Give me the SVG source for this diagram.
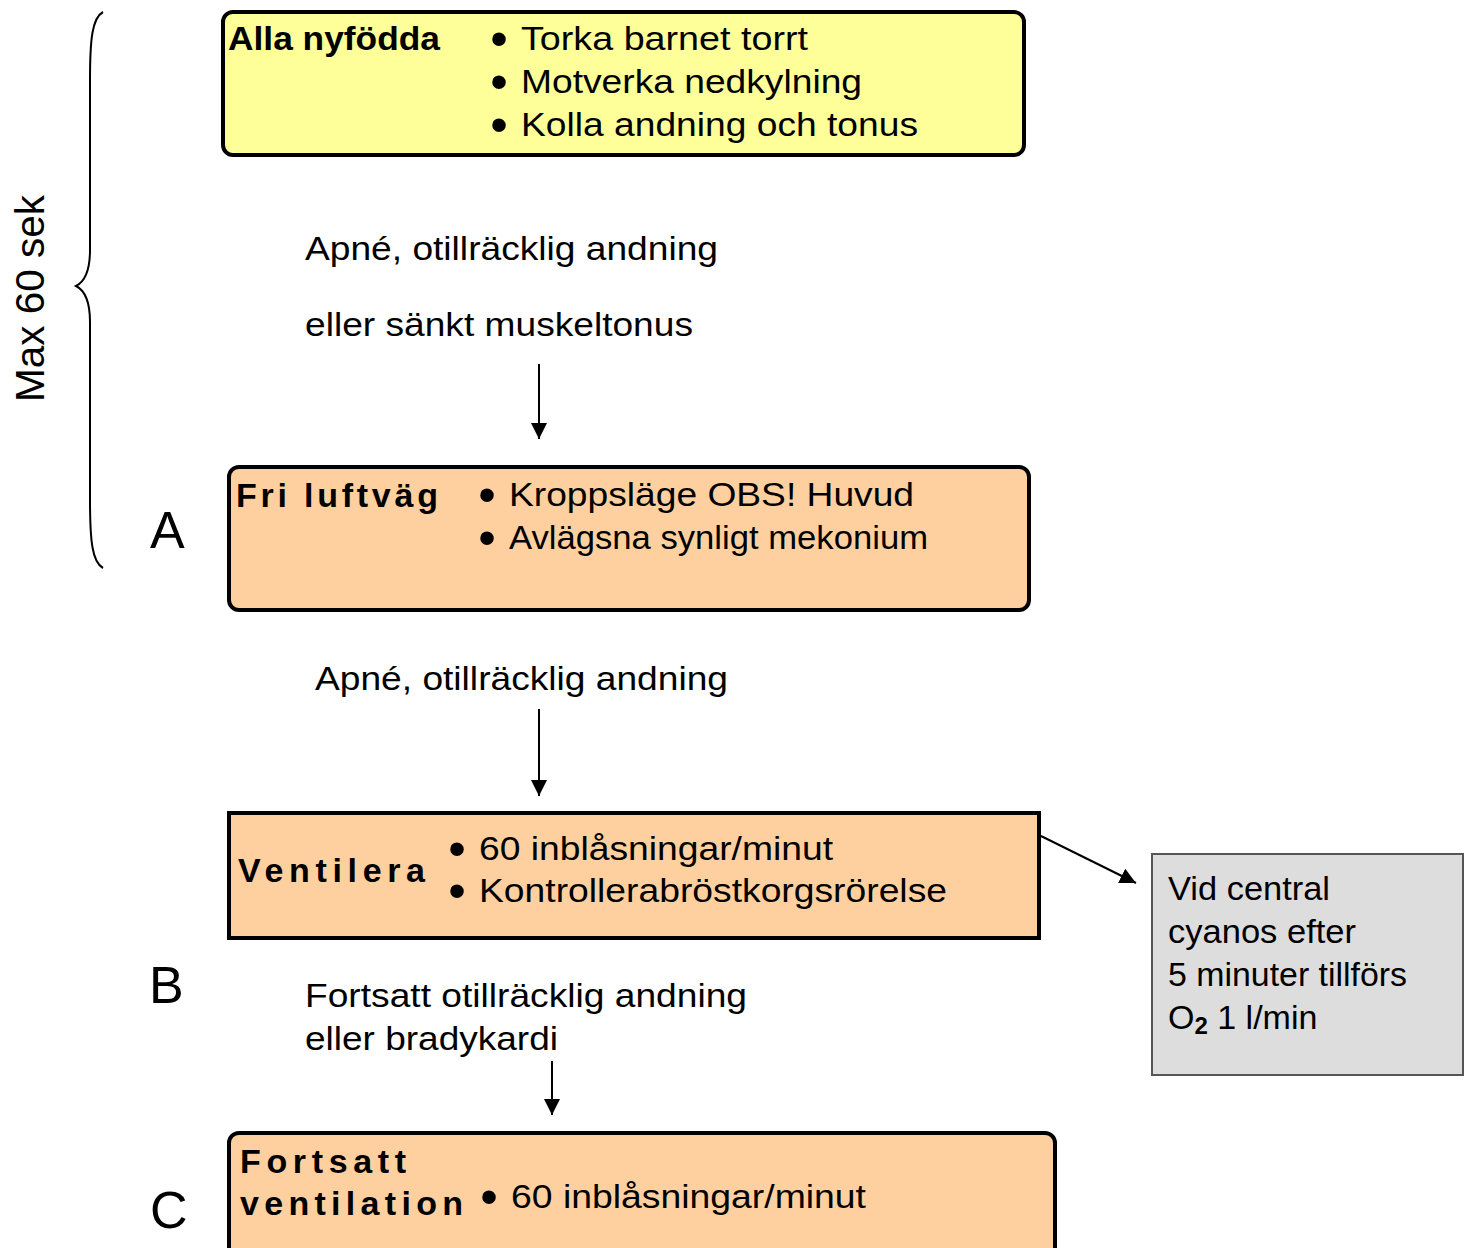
<svg xmlns="http://www.w3.org/2000/svg" width="1472" height="1248" viewBox="0 0 1472 1248">
<style>
text{font-family:"Liberation Sans",Arial,sans-serif;fill:#000;}
.t{font-size:34px;}
.b{font-size:34px;font-weight:bold;}
.bl{font-size:50px;text-anchor:middle;}
.big{font-size:52px;}
.box{stroke:#000;stroke-width:4;}
.conn{stroke:#000;stroke-width:2;fill:none;}
</style>
<defs>
<marker id="ah" viewBox="0 0 10 10" refX="10" refY="5" markerWidth="16" markerHeight="16" markerUnits="userSpaceOnUse" orient="auto">
<path d="M0,0 L10,5 L0,10 Z" fill="#000"/>
</marker>
</defs>
<rect width="1472" height="1248" fill="#fff"/>

<g id="brace">
<path class="conn" d="M103,12 C92,18 90,40 90,80 L90,250 C90,272 84,282 76,286 C84,290 90,300 90,322 L90,500 C90,540 92,562 103,568"/>
<text transform="translate(44,402) rotate(-90)" textLength="207" lengthAdjust="spacingAndGlyphs" style="font-size:40px">Max 60 sek</text>
</g>

<g id="n1">
<rect class="box" x="223" y="12" width="801" height="143" rx="10" fill="#FFFF99"/>
<text class="b" x="228" y="50" textLength="212" lengthAdjust="spacingAndGlyphs">Alla nyfödda</text>
<text class="bl" x="499" y="56">•</text>
<text class="t" x="521" y="50" textLength="287" lengthAdjust="spacingAndGlyphs">Torka barnet torrt</text>
<text class="bl" x="499" y="99">•</text>
<text class="t" x="521" y="93" textLength="341" lengthAdjust="spacingAndGlyphs">Motverka nedkylning</text>
<text class="bl" x="499" y="142">•</text>
<text class="t" x="521" y="136" textLength="397" lengthAdjust="spacingAndGlyphs">Kolla andning och tonus</text>
</g>

<g id="n2">
<rect class="box" x="229" y="467" width="800" height="143" rx="10" fill="#FFD09F"/>
<text class="b" x="236" y="507" textLength="202" lengthAdjust="spacing">Fri luftväg</text>
<text class="bl" x="487" y="512">•</text>
<text class="t" x="509" y="506" textLength="405" lengthAdjust="spacingAndGlyphs">Kroppsläge OBS! Huvud</text>
<text class="bl" x="487" y="555">•</text>
<text class="t" x="509" y="549" textLength="419" lengthAdjust="spacingAndGlyphs">Avlägsna synligt mekonium</text>
</g>
<text id="labelA" class="big" x="150" y="548">A</text>

<g id="n3">
<rect class="box" x="229" y="813" width="810" height="125" fill="#FFD09F"/>
<text class="b" x="238" y="882" textLength="187" lengthAdjust="spacing">Ventilera</text>
<text class="bl" x="457" y="866">•</text>
<text class="t" x="479" y="860" textLength="354" lengthAdjust="spacingAndGlyphs">60 inblåsningar/minut</text>
<text class="bl" x="457" y="908">•</text>
<text class="t" x="479" y="902" textLength="468" lengthAdjust="spacingAndGlyphs">Kontrollerabröstkorgsrörelse</text>
</g>
<text id="labelB" class="big" x="149" y="1003">B</text>

<g id="n4">
<rect class="box" x="229" y="1133" width="826" height="140" rx="10" fill="#FFD09F"/>
<text class="b" x="240" y="1173" textLength="166" lengthAdjust="spacing">Fortsatt</text>
<text class="b" x="240" y="1215" textLength="223" lengthAdjust="spacing">ventilation</text>
<text class="bl" x="489" y="1214">•</text>
<text class="t" x="511" y="1208" textLength="355" lengthAdjust="spacingAndGlyphs">60 inblåsningar/minut</text>
</g>
<text id="labelC" class="big" x="150" y="1228">C</text>

<g id="n5">
<rect x="1152" y="854" width="311" height="221" fill="#DDDDDD" stroke="#555" stroke-width="2"/>
<text class="t" x="1168" y="900" textLength="162" lengthAdjust="spacingAndGlyphs">Vid central</text>
<text class="t" x="1168" y="943" textLength="188" lengthAdjust="spacingAndGlyphs">cyanos efter</text>
<text class="t" x="1168" y="986" textLength="239" lengthAdjust="spacingAndGlyphs">5 minuter tillförs</text>
<text class="t" x="1168" y="1029">O<tspan font-size="24" font-weight="bold" dy="5">2</tspan><tspan dy="-5"> 1 l/min</tspan></text>
</g>

<g id="labels">
<text class="t" x="305" y="260" textLength="413" lengthAdjust="spacingAndGlyphs">Apné, otillräcklig andning</text>
<text class="t" x="305" y="336" textLength="388" lengthAdjust="spacingAndGlyphs">eller sänkt muskeltonus</text>
<text class="t" x="315" y="690" textLength="413" lengthAdjust="spacingAndGlyphs">Apné, otillräcklig andning</text>
<text class="t" x="305" y="1007" textLength="442" lengthAdjust="spacingAndGlyphs">Fortsatt otillräcklig andning</text>
<text class="t" x="305" y="1050" textLength="253" lengthAdjust="spacingAndGlyphs">eller bradykardi</text>
</g>

<g id="connectors">
<line class="conn" x1="539" y1="364" x2="539" y2="439" marker-end="url(#ah)"/>
<line class="conn" x1="539" y1="709" x2="539" y2="796" marker-end="url(#ah)"/>
<line class="conn" x1="552" y1="1061" x2="552" y2="1115" marker-end="url(#ah)"/>
<line class="conn" x1="1041" y1="836" x2="1136" y2="883" marker-end="url(#ah)"/>
</g>
</svg>
